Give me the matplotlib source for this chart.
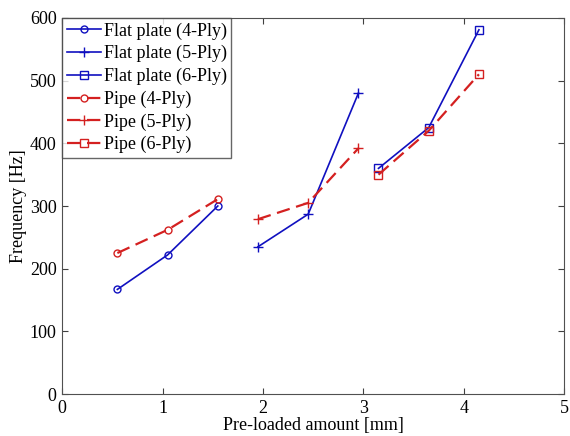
import numpy as np
import matplotlib
matplotlib.use('Agg')
import matplotlib.pyplot as plt

plt.rcParams['font.family'] = ['Liberation Serif', 'DejaVu Serif']

# 数据
x_4ply = [0.55, 1.05, 1.55]
x_5ply = [1.95, 2.45, 2.95]
x_6ply = [3.15, 3.65, 4.15]
flat_4ply = [167, 222, 300]
flat_5ply = [235, 287, 480]
flat_6ply = [360, 425, 581]
pipe_4ply = [225, 262, 311]
pipe_5ply = [279, 305, 392]
pipe_6ply = [350, 420, 510]
xticks = [0, 1, 2, 3, 4, 5]
yticks = [0, 100, 200, 300, 400, 500, 600]

blue = '#1010c0'
red = '#d42020'

fig = plt.figure(figsize=(5.7, 4.36), dpi=100)
ax = fig.add_axes([0.109, 0.096, 0.881, 0.863])

ax.plot(x_4ply, flat_4ply, '-', color=blue, marker='o', ms=5, mfc='none', lw=1.2, label='Flat plate (4-Ply)')
ax.plot(x_5ply, flat_5ply, '-', color=blue, marker='+', ms=7, lw=1.2, label='Flat plate (5-Ply)')
ax.plot(x_6ply, flat_6ply, '-', color=blue, marker='s', ms=6, mfc='none', lw=1.2, label='Flat plate (6-Ply)')
ax.plot(x_4ply, pipe_4ply, '--', color=red, marker='o', ms=5, mfc='none', lw=1.6, dashes=(6, 3), label='Pipe (4-Ply)')
ax.plot(x_5ply, pipe_5ply, '--', color=red, marker='+', ms=7, lw=1.6, dashes=(6, 3), label='Pipe (5-Ply)')
ax.plot(x_6ply, pipe_6ply, '--', color=red, marker='s', ms=6, mfc='none', lw=1.6, dashes=(6, 3), label='Pipe (6-Ply)')

ax.set_xlim(0, 5)
ax.set_ylim(0, 600)
ax.set_xticks(xticks)
ax.set_yticks(yticks)
ax.tick_params(direction='in', length=4, labelsize=13, top=True, right=True, color='#404040', pad=4)
for s in ax.spines.values():
    s.set_color('#505050')
ax.set_xlabel('Pre-loaded amount [mm]', fontsize=13, labelpad=0)
ax.set_ylabel('Frequency [Hz]', fontsize=13, labelpad=2)

leg = ax.legend(loc='upper left', fontsize=13, frameon=True, fancybox=False,
                borderaxespad=0, handlelength=1.9, handletextpad=0.15,
                labelspacing=0.3, borderpad=0.25)
leg.get_frame().set_edgecolor('#404040')
leg.get_frame().set_linewidth(1.0)

fig.savefig('out.png', dpi=100)
